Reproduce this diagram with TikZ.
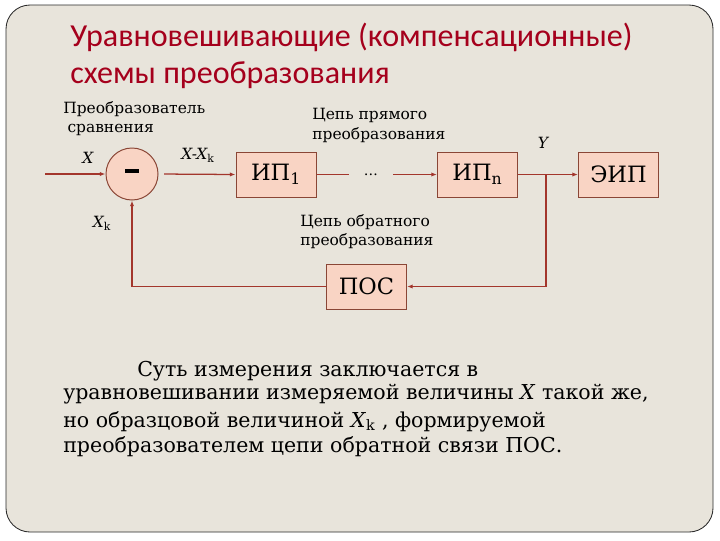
\documentclass[tikz,border=0pt]{standalone}
\usepackage{fontspec}
\setmainfont{DejaVu Serif}
\newfontfamily\headfont{Carlito}
\usetikzlibrary{arrows.meta, positioning, calc}
\definecolor{slidecolor}{HTML}{E8E4DB}
\definecolor{rimcolor}{HTML}{2A2A2A}
\definecolor{headcolor}{HTML}{A5001C}
\definecolor{blockcolor}{HTML}{F9D4C4}
\definecolor{edgecolor}{HTML}{8A4636}
\definecolor{wirecolor}{HTML}{A3362C}

\begin{document}
\begin{tikzpicture}[x=0.025cm, y=-0.025cm,
  block/.style={rectangle, fill=blockcolor, draw=edgecolor, line width=0.7pt,
                minimum width=2cm, minimum height=1.125cm, font=\fontsize{16}{18}\selectfont},
  wire/.style={draw=wirecolor, line width=0.9pt},
  feed/.style={wire, -{Latex[length=4pt, width=3pt]}},
  lbl/.style={font=\fontsize{11}{14}\selectfont, align=left, inner sep=0pt},
  sym/.style={font=\fontsize{11}{13}\selectfont\itshape, inner sep=0pt},
  bodytext/.style={font=\fontsize{14.6}{17}\selectfont, anchor=base west, inner sep=0pt}]
  % slide
  \fill[white] (0,0) rectangle (720,540);
  \draw[rimcolor, fill=slidecolor, line width=0.6pt, rounded corners=0.6cm]
    (6,5) rectangle (713,532);
  \node[anchor=base west, inner sep=0pt, text=headcolor,
        font=\headfont\fontsize{22.8}{27}\selectfont] (head1) at (70,46)
    {Уравновешивающие (компенсационные)};
  \node[anchor=base west, inner sep=0pt, text=headcolor,
        font=\headfont\fontsize{22.8}{27}\selectfont] (head2) at (70,83)
    {схемы преобразования};

  % blocks
  \node[circle, fill=blockcolor, draw=edgecolor, line width=0.7pt,
        minimum size=1.3cm, inner sep=0pt] (cmp) at (132,174)
    {\rule[4.5pt]{9.5pt}{2.4pt}};
  \node[block] (ip1) at (276,174.5) {ИП\textsubscript{1}};
  \node[inner sep=0pt, minimum width=1.1cm] (dots) at (371,174.5) {\dots};
  \node[block] (ipn) at (477.5,174.5) {ИП\textsubscript{n}};
  \node[block] (eip) at (618.5,174.5) {ЭИП};
  \node[block] (pos) at (366.5,286.5) {ПОС};
  \coordinate (src) at (45,174);
  \coordinate (tap) at (546,174.5);

  % labels
  \node[lbl, anchor=north west] (cmplbl) at (63,101) {Преобразователь\\\hspace*{3pt}сравнения};
  \node[lbl, anchor=north west] (fwdlbl) at (312,108) {Цепь прямого\\преобразования};
  \node[lbl, anchor=north west] (revlbl) at (300,214) {Цепь обратного\\преобразования};
  \node[sym] (xlbl) at (88,158) {X};
  \node[sym] (difflbl) at (198,155) {X-X\textsubscript{\upshape k}};
  \node[sym] (ylbl) at (543,143) {Y};
  \node[sym] (xklbl) at (102,223) {X\textsubscript{\upshape k}};

  % connections
  \draw[feed] (src) -- (cmp.west);
  \draw[feed, shorten <=4pt] (cmp.east) -- (ip1.west);
  \draw[wire] (ip1.east) -- (dots.west);
  \draw[feed] (dots.east) -- (ipn.west);
  \draw[feed] (ipn.east) -- (eip.west);
  \draw[feed] (tap) |- (pos.east);
  \draw[feed] (pos.west) -| (cmp.south);

  % text below
  \node[bodytext] (par1) at (137,376) {Суть измерения заключается в};
  \node[bodytext] (par2) at (63,399) {уравновешивании измеряемой величины \textit{X} такой же,};
  \node[bodytext] (par3) at (63,427) {но образцовой величиной \textit{X}\textsubscript{\upshape k} , формируемой};
  \node[bodytext] (par4) at (63,452) {преобразователем цепи обратной связи ПОС.};
\end{tikzpicture}
\end{document}
